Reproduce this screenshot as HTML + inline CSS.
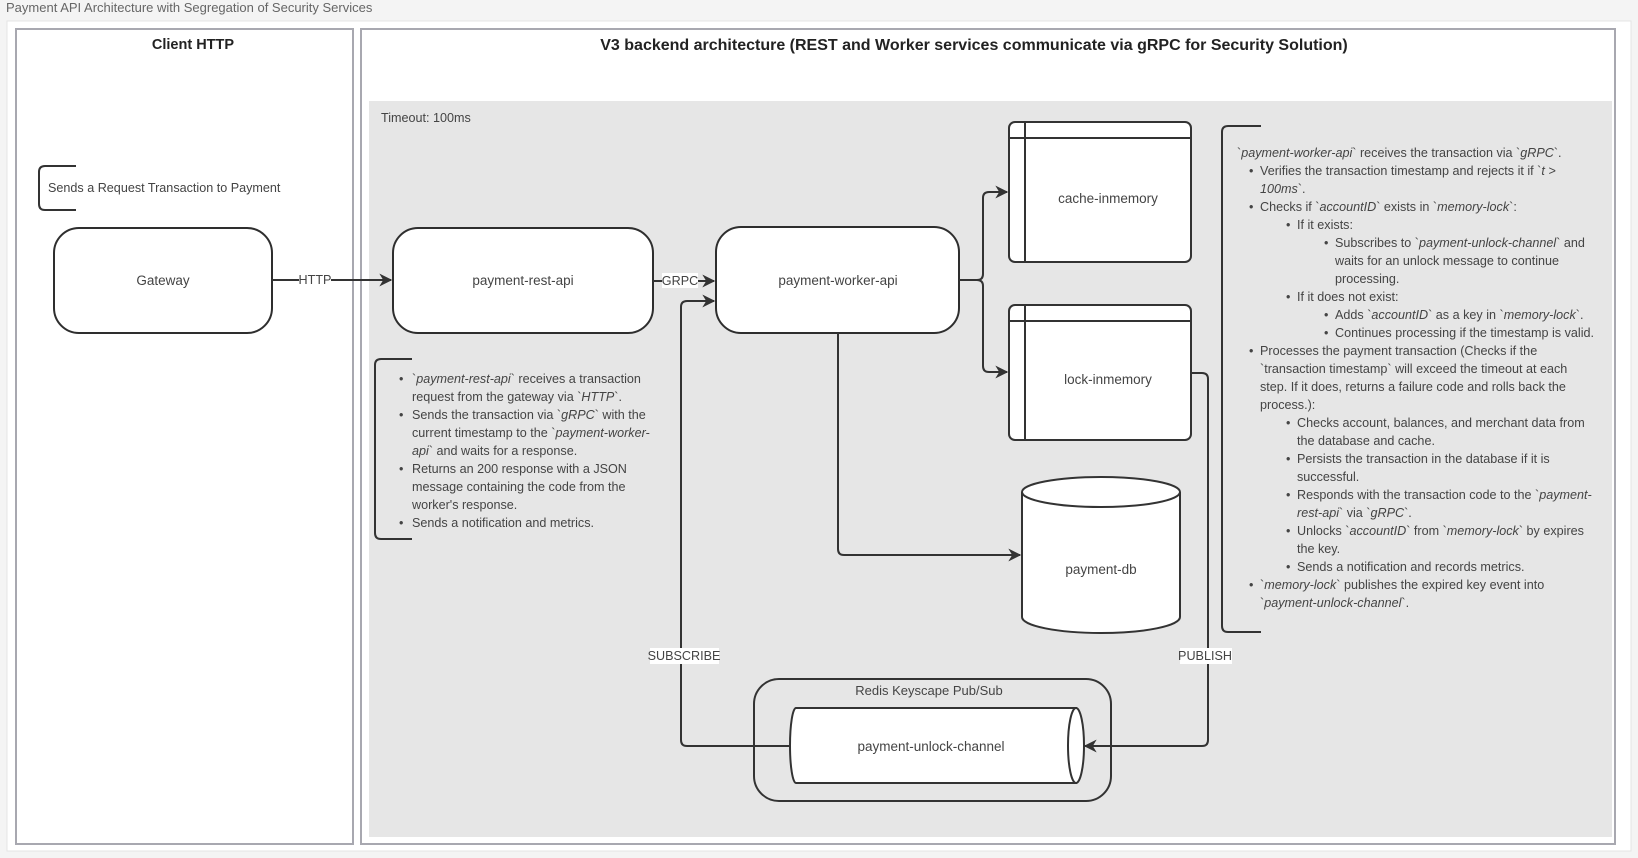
<!DOCTYPE html>
<html><head><meta charset="utf-8"><style>
html,body{margin:0;padding:0;background:#f4f4f4;width:1638px;height:858px;overflow:hidden}
svg{display:block}
text{font-family:"Liberation Sans",sans-serif;fill:#444}
.t{font-size:12.6px}
.i{font-style:italic}
</style></head><body>
<svg width="1638" height="858" viewBox="0 0 1638 858" xmlns="http://www.w3.org/2000/svg">
<defs>
<marker id="a" viewBox="0 0 10 10" refX="9" refY="5" markerWidth="6.5" markerHeight="6.5" orient="auto"><path d="M0,0 L10,5 L0,10 L3,5 z" fill="#333"/></marker>
</defs>
<text x="6" y="12" font-size="13" fill="#666" style="fill:#666">Payment API Architecture with Segregation of Security Services</text>
<rect x="7" y="21" width="1624" height="830" fill="#fff" stroke="#e4e4e4"/>
<rect x="16" y="29" width="337" height="815" fill="#fff" stroke="#a8a8b0" stroke-width="2"/>
<rect x="361" y="29" width="1254" height="815" fill="#fff" stroke="#a8a8b0" stroke-width="2"/>
<rect x="369" y="101" width="1243" height="736" fill="#e6e6e6"/>
<text x="193" y="49" font-size="14.5" font-weight="bold" text-anchor="middle" style="fill:#222">Client HTTP</text>
<text x="974" y="50" font-size="16" font-weight="bold" text-anchor="middle" style="fill:#222">V3 backend architecture (REST and Worker services communicate via gRPC for Security Solution)</text>
<text x="381" y="122" font-size="12.6">Timeout: 100ms</text>
<path d="M76,166 H45 Q39,166 39,172 V204 Q39,210 45,210 H76" fill="none" stroke="#333" stroke-width="2"/>
<text x="48" y="192" class="t">Sends a Request Transaction to Payment</text>
<g stroke="#2e2e2e">
<rect x="54" y="228" width="218" height="105" rx="25" fill="#fff" stroke-width="2"/>
<rect x="393" y="228" width="260" height="105" rx="25" fill="#fff" stroke-width="2"/>
<rect x="716" y="227" width="243" height="106" rx="25" fill="#fff" stroke-width="2"/>
</g>
<text x="163" y="285" font-size="13.5" text-anchor="middle">Gateway</text>
<text x="523" y="285" font-size="13.5" text-anchor="middle">payment-rest-api</text>
<text x="838" y="285" font-size="13.5" text-anchor="middle">payment-worker-api</text>
<rect x="1009" y="122" width="182" height="140" rx="6" fill="#fff" stroke="#333" stroke-width="2"/>
<path d="M1025,122 V262 M1009,138 H1191" stroke="#333" stroke-width="2"/>
<text x="1108" y="203" font-size="13.5" text-anchor="middle">cache-inmemory</text>
<rect x="1009" y="305" width="182" height="135" rx="6" fill="#fff" stroke="#333" stroke-width="2"/>
<path d="M1025,305 V440 M1009,321 H1191" stroke="#333" stroke-width="2"/>
<text x="1108" y="384" font-size="13.5" text-anchor="middle">lock-inmemory</text>
<path d="M1022,492 V617 A79,16 0 0 0 1180,617 V492" fill="#fff" stroke="#333" stroke-width="2"/>
<ellipse cx="1101" cy="492" rx="79" ry="15" fill="#fff" stroke="#333" stroke-width="2"/>
<text x="1101" y="574" font-size="13.5" text-anchor="middle">payment-db</text>
<rect x="754" y="679" width="357" height="122" rx="25" fill="none" stroke="#333" stroke-width="2"/>
<text x="929" y="695" font-size="13" text-anchor="middle">Redis Keyscape Pub/Sub</text>
<path d="M796,708 H1076 V783 H796 A6,37.5 0 0 1 796,708 z" fill="#fff" stroke="#333" stroke-width="2"/>
<ellipse cx="1076" cy="745.5" rx="8" ry="37.5" fill="#fff" stroke="#333" stroke-width="2"/>
<text x="931" y="751" font-size="13.5" text-anchor="middle">payment-unlock-channel</text>
<g fill="none" stroke="#333" stroke-width="2">
<path d="M272,280 H391" marker-end="url(#a)"/>
<path d="M653,281 H714" marker-end="url(#a)"/>
<path d="M959,280 H977 Q983,280 983,274 V198 Q983,192 989,192 H1007" marker-end="url(#a)"/>
<path d="M977,280 Q983,280 983,286 V366 Q983,372 989,372 H1007" marker-end="url(#a)"/>
<path d="M838,333 V549 Q838,555 844,555 H1020" marker-end="url(#a)"/>
<path d="M1191,373 H1202 Q1208,373 1208,379 V740 Q1208,746 1202,746 H1085" marker-end="url(#a)"/>
<path d="M791,746 H687 Q681,746 681,740 V307 Q681,301 687,301 H714" marker-end="url(#a)"/>
</g>
<rect x="299" y="272" width="32" height="15" fill="#fff"/>
<text x="315" y="284" font-size="12.6" text-anchor="middle">HTTP</text>
<rect x="662" y="273" width="36" height="15" fill="#fff"/>
<text x="680" y="285" font-size="12.6" text-anchor="middle">GRPC</text>
<rect x="650" y="648" width="69" height="16" fill="#fff"/>
<text x="684" y="660" font-size="12.6" text-anchor="middle">SUBSCRIBE</text>
<rect x="1180" y="648" width="52" height="16" fill="#fff"/>
<text x="1205" y="660" font-size="12.6" text-anchor="middle">PUBLISH</text>
<path d="M412,359 H381 Q375,359 375,365 V533 Q375,539 381,539 H412" fill="none" stroke="#333" stroke-width="2"/>
<g class="t" font-size="12.6">
<text x="399" y="383">•</text><text x="412" y="383">`<tspan class="i">payment-rest-api</tspan>` receives a transaction</text>
<text x="412" y="401">request from the gateway via `<tspan class="i">HTTP</tspan>`.</text>
<text x="399" y="419">•</text><text x="412" y="419">Sends the transaction via `<tspan class="i">gRPC</tspan>` with the</text>
<text x="412" y="437">current timestamp to the `<tspan class="i">payment-worker-</tspan></text>
<text x="412" y="455"><tspan class="i">api</tspan>` and waits for a response.</text>
<text x="399" y="473">•</text><text x="412" y="473">Returns an  200 response with a JSON</text>
<text x="412" y="491">message containing the code from the</text>
<text x="412" y="509">worker's response.</text>
<text x="399" y="527">•</text><text x="412" y="527">Sends a notification and metrics.</text>
</g>
<path d="M1261,126 H1228 Q1222,126 1222,132 V626 Q1222,632 1228,632 H1261" fill="none" stroke="#333" stroke-width="2"/>
<g class="t" font-size="12.6">
<text x="1237" y="157">`<tspan class="i">payment-worker-api</tspan>` receives the transaction via `<tspan class="i">gRPC</tspan>`.</text>
<text x="1249" y="175">•</text><text x="1260" y="175">Verifies the transaction timestamp and rejects it if `<tspan class="i">t &gt;</tspan></text>
<text x="1260" y="193"><tspan class="i">100ms</tspan>`.</text>
<text x="1249" y="211">•</text><text x="1260" y="211">Checks if `<tspan class="i">accountID</tspan>` exists in `<tspan class="i">memory-lock</tspan>`:</text>
<text x="1286" y="229">•</text><text x="1297" y="229">If it exists:</text>
<text x="1324" y="247">•</text><text x="1335" y="247">Subscribes to `<tspan class="i">payment-unlock-channel</tspan>` and</text>
<text x="1335" y="265">waits for an unlock message to continue</text>
<text x="1335" y="283">processing.</text>
<text x="1286" y="301">•</text><text x="1297" y="301">If it does not exist:</text>
<text x="1324" y="319">•</text><text x="1335" y="319">Adds `<tspan class="i">accountID</tspan>` as a key in `<tspan class="i">memory-lock</tspan>`.</text>
<text x="1324" y="337">•</text><text x="1335" y="337">Continues processing if the timestamp is valid.</text>
<text x="1249" y="355">•</text><text x="1260" y="355">Processes the payment transaction (Checks if the</text>
<text x="1260" y="373">`transaction timestamp` will exceed the timeout at each</text>
<text x="1260" y="391">step. If it does, returns a failure code and rolls back the</text>
<text x="1260" y="409">process.):</text>
<text x="1286" y="427">•</text><text x="1297" y="427">Checks account, balances, and merchant data from</text>
<text x="1297" y="445">the database and cache.</text>
<text x="1286" y="463">•</text><text x="1297" y="463">Persists the transaction in the database if it is</text>
<text x="1297" y="481">successful.</text>
<text x="1286" y="499">•</text><text x="1297" y="499">Responds with the transaction code to the `<tspan class="i">payment-</tspan></text>
<text x="1297" y="517"><tspan class="i">rest-api</tspan>` via `<tspan class="i">gRPC</tspan>`.</text>
<text x="1286" y="535">•</text><text x="1297" y="535">Unlocks `<tspan class="i">accountID</tspan>` from `<tspan class="i">memory-lock</tspan>` by expires</text>
<text x="1297" y="553">the key.</text>
<text x="1286" y="571">•</text><text x="1297" y="571">Sends a notification and records metrics.</text>
<text x="1249" y="589">•</text><text x="1260" y="589">`<tspan class="i">memory-lock</tspan>` publishes the expired key event into</text>
<text x="1260" y="607">`<tspan class="i">payment-unlock-channel</tspan>`.</text>
</g>
</svg>
</body></html>
